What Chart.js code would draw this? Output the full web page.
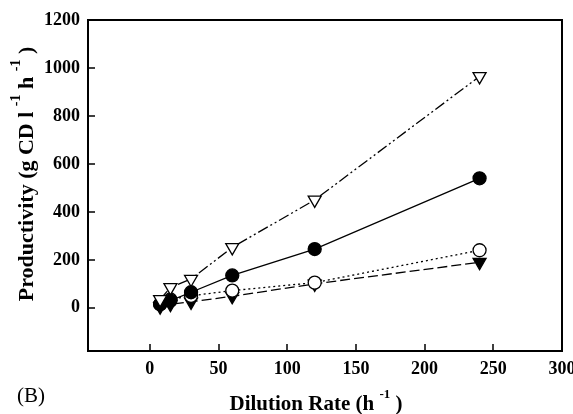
<!DOCTYPE html>
<html>
<head>
<meta charset="utf-8">
<script src="https://cdn.jsdelivr.net/npm/chart.js@4"></script>
<style>
html,body{margin:0;padding:0;background:#fff;}
#wrap{width:573px;height:414px;position:relative;}
</style>
</head>
<body>
<div id="wrap"><canvas id="c" width="573" height="414"></canvas></div>
<script>
// Data
const dilutionRates = [7.5, 15, 30, 60, 120, 240];
const openTriangleSeries = [35, 85, 120, 252, 450, 965];
const filledCircleSeries = [15, 30, 65, 135, 245, 540];
const openCircleSeries = [15, 35, 50, 72, 105, 240];
const filledTriangleSeries = [5, 15, 25, 48, 100, 190];
const xTickValues = [0, 50, 100, 150, 200, 250, 300];
const yTickValues = [0, 200, 400, 600, 800, 1000, 1200];
// Axis titles as text runs (sup = superscript)
const xTitleRuns = [{t:'Dilution Rate (h '}, {t:'-1', sup:true}, {t:' )'}];
const yTitleRuns = [{t:'Productivity (g CD l '}, {t:'-1', sup:true}, {t:' h '}, {t:'-1', sup:true}, {t:' )'}];
const panelLabel = '(B)';

function pts(ys){ return dilutionRates.map((x,i)=>({x:x,y:ys[i]})); }

const serif = '"Liberation Serif", "Times New Roman", serif';

function drawRuns(ctx, runs, cx, baseY, angle, size, supSize){
  const mainFont = 'bold ' + size + 'px ' + serif;
  const supFont = 'bold ' + supSize + 'px ' + serif;
  ctx.save();
  ctx.translate(cx, baseY);
  ctx.rotate(angle);
  let total = 0;
  runs.forEach(r=>{ ctx.font = r.sup ? supFont : mainFont; r.w = ctx.measureText(r.t).width; total += r.w; });
  let x = -total/2;
  ctx.textAlign = 'left';
  ctx.textBaseline = 'alphabetic';
  ctx.fillStyle = '#000';
  runs.forEach(r=>{
    ctx.font = r.sup ? supFont : mainFont;
    ctx.fillText(r.t, x, r.sup ? -Math.round(size*0.58) : 0);
    x += r.w;
  });
  ctx.restore();
}

const framePlugin = {
  id:'frame',
  afterDraw(chart){
    const ctx = chart.ctx, a = chart.chartArea;
    const xs = chart.scales.x, ys = chart.scales.y;
    ctx.save();
    ctx.strokeStyle = '#000';
    ctx.lineWidth = 2;
    ctx.strokeRect(a.left, a.top, a.right - a.left, a.bottom - a.top);
    ctx.lineWidth = 1.5;
    ctx.beginPath();
    xs.ticks.forEach(t=>{
      const px = Math.round(xs.getPixelForValue(t.value));
      if (px > a.left + 2 && px < a.right - 2){
        ctx.moveTo(px, a.bottom); ctx.lineTo(px, a.bottom - 7);
      }
    });
    ys.ticks.forEach(t=>{
      const py = Math.round(ys.getPixelForValue(t.value));
      if (py > a.top + 2 && py < a.bottom - 2){
        ctx.moveTo(a.left, py); ctx.lineTo(a.left + 7, py);
      }
    });
    ctx.stroke();
    ctx.fillStyle = '#000';
    ctx.font = '21px ' + serif;
    ctx.textAlign = 'left';
    ctx.textBaseline = 'middle';
    ctx.fillText(panelLabel, 17, 396);
    ctx.restore();
    drawRuns(ctx, xTitleRuns, 316, 410, 0, 21, 13);
    drawRuns(ctx, yTitleRuns, 33, 174, -Math.PI/2, 22, 14);
  }
};

const common = {borderColor:'#000', borderWidth:1.3, pointBorderColor:'#000', pointBorderWidth:1.3, pointRadius:6.5, pointHoverRadius:6.5, fill:false, tension:0};

new Chart(document.getElementById('c'), {
  type:'scatter',
  data:{
    datasets:[
      Object.assign({}, common, {label:'open triangle', data:pts(openTriangleSeries), showLine:true,
        borderDash:[11,3,2,3,2,3], pointStyle:'triangle', rotation:180, pointBackgroundColor:'#fff', pointRadius:7.5}),
      Object.assign({}, common, {label:'filled circle', data:pts(filledCircleSeries), showLine:true,
        pointStyle:'circle', pointBackgroundColor:'#000'}),
      Object.assign({}, common, {label:'open circle', data:pts(openCircleSeries), showLine:true,
        borderDash:[2,3], pointStyle:'circle', pointBackgroundColor:'#fff'}),
      Object.assign({}, common, {label:'filled triangle', data:pts(filledTriangleSeries), showLine:true,
        borderDash:[10,4], pointStyle:'triangle', rotation:180, pointBackgroundColor:'#000', pointRadius:7.5})
    ]
  },
  options:{
    responsive:false,
    animation:false,
    events:[],
    layout:{padding:{left:0,right:11,top:20,bottom:0}},
    plugins:{legend:{display:false}, tooltip:{enabled:false}},
    scales:{
      x:{
        type:'linear', min:-45, max:300,
        afterBuildTicks(s){ s.ticks = xTickValues.map(v=>({value:v})); },
        afterFit(s){ s.height = 63; s.paddingLeft = 0; s.paddingRight = 0; },
        grid:{display:false, drawTicks:false},
        border:{display:false},
        ticks:{color:'#000', padding:8, maxRotation:0, autoSkip:false,
          callback:(v)=>String(v),
          font:{family:serif, size:18, weight:'bold'}},
        title:{display:false}
      },
      y:{
        type:'linear', min:-180, max:1200,
        afterBuildTicks(s){ s.ticks = yTickValues.map(v=>({value:v})); },
        afterFit(s){ s.width = 88; s.paddingTop = 0; s.paddingBottom = 0; },
        grid:{display:false, drawTicks:false},
        border:{display:false},
        ticks:{color:'#000', padding:8, autoSkip:false,
          callback:(v)=>String(v),
          font:{family:serif, size:18, weight:'bold'}},
        title:{display:false}
      }
    }
  },
  plugins:[framePlugin]
});
</script>
</body>
</html>
